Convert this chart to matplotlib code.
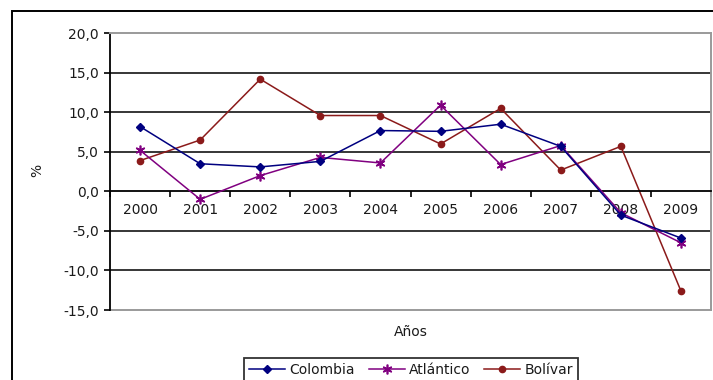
import matplotlib
matplotlib.use("Agg")
import matplotlib.pyplot as plt
from matplotlib.patches import Rectangle

years = ["2000", "2001", "2002", "2003", "2004", "2005", "2006", "2007", "2008", "2009"]
colombia = [8.2, 3.5, 3.1, 3.8, 7.7, 7.6, 8.5, 5.7, -3.0, -5.9]
atlantico = [5.2, -1.0, 2.0, 4.3, 3.6, 10.9, 3.4, 5.8, -2.7, -6.5]
bolivar = [3.9, 6.5, 14.2, 9.6, 9.6, 6.0, 10.5, 2.7, 5.7, -12.6]
y_ticks = [-15, -10, -5, 0, 5, 10, 15, 20]

plt.rcParams["font.family"] = ["DejaVu Sans"]
text_color = "#1a1a1a"

fig = plt.figure(figsize=(7.13, 3.8), dpi=100)
ax = fig.add_axes([110 / 713, 1 - 310 / 380, 601 / 713, (310 - 33.3) / 380])

# outer chart frame
fig.patches.append(Rectangle((11.5 / 713, -0.05), 1.1, 1 - 10.5 / 380 + 0.05,
                             transform=fig.transFigure, fill=False,
                             edgecolor="black", linewidth=1.4, zorder=0))

x = list(range(len(years)))
ax.set_xlim(-0.5, len(years) - 0.5)
ax.set_ylim(-15, 20)

# horizontal gridlines
for v in [-10, -5, 5, 10, 15]:
    ax.axhline(v, color="black", linewidth=1.1, zorder=1)
ax.axhline(-15, color="#9a9a9a", linewidth=1.4, zorder=1, clip_on=False)

ax.plot(x, colombia, color="#000080", marker="D", markersize=3.8, linewidth=1.1,
        label="Colombia", zorder=4)
ax.plot(x, atlantico, color="#800080", marker=(6, 2, 0), markersize=7,
        markeredgewidth=1.2, linewidth=1.1, label="Atlántico", zorder=3)
ax.plot(x, bolivar, color="#8B1A1A", marker="o", markersize=4.5, linewidth=1.1,
        label="Bolívar", zorder=2)

# spines
ax.spines["bottom"].set_position(("data", 0))
ax.spines["bottom"].set_color("black")
ax.spines["bottom"].set_linewidth(1.3)
ax.spines["left"].set_color("black")
ax.spines["left"].set_linewidth(1.3)
ax.spines["top"].set_color("#9a9a9a")
ax.spines["top"].set_linewidth(1.4)
ax.spines["right"].set_color("#9a9a9a")
ax.spines["right"].set_linewidth(1.4)

# category axis: ticks between categories, labels at centers
ax.set_xticks([i - 0.5 for i in range(len(years) + 1)])
ax.set_xticklabels([])
ax.set_xticks(x, minor=True)
ax.set_xticklabels(years, minor=True)
ax.tick_params(axis="x", which="major", direction="out", length=4, width=1.2, color="black")
ax.tick_params(axis="x", which="minor", length=0, pad=8, labelsize=10, labelcolor=text_color)

ax.set_yticks(y_ticks)
ax.set_yticklabels([f"{v:.1f}".replace(".", ",") for v in y_ticks])
ax.tick_params(axis="y", direction="out", length=4, width=1.2, color="black",
               labelsize=10, labelcolor=text_color, pad=4)

fig.text(37 / 713, 1 - 170 / 380, "%", rotation=90, ha="center", va="center",
         fontsize=10, color=text_color)
fig.text(411 / 713, 1 - 332 / 380, "Años", ha="center", va="center",
         fontsize=10, color=text_color)

leg = fig.legend(loc="lower center", bbox_to_anchor=(411 / 713, -0.024), ncol=3,
                 frameon=True, fancybox=False, edgecolor="black", fontsize=10,
                 handlelength=2.6, handletextpad=0.3, columnspacing=1.0,
                 borderpad=0.35)
leg.get_frame().set_linewidth(1.3)
for t in leg.get_texts():
    t.set_color(text_color)

fig.savefig("out.png", dpi=100)
